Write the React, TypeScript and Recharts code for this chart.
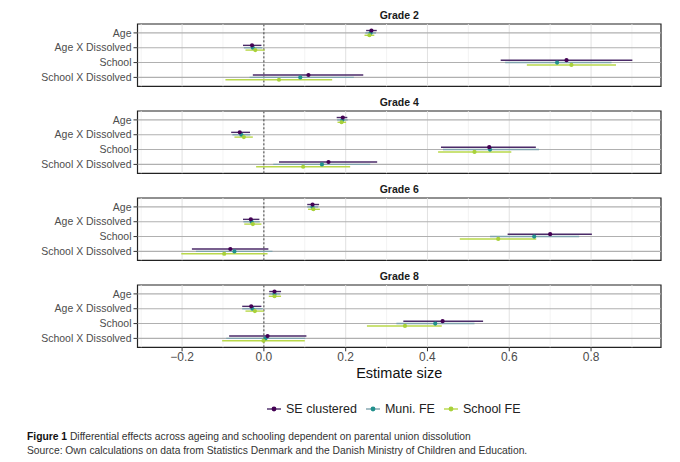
import React from 'react';
import { ScatterChart, Scatter, XAxis, YAxis, ErrorBar, ReferenceLine, ReferenceArea, Label } from 'recharts';

// facets and rows
const grades = ['Grade 2', 'Grade 4', 'Grade 6', 'Grade 8'];
const terms = ['Age', 'Age X Dissolved', 'School', 'School X Dissolved'];

// x axis
const xTicks = [-0.2, 0, 0.2, 0.4, 0.6, 0.8];
const minorGrid = [-0.3, -0.1, 0.1, 0.3, 0.5, 0.7, 0.9];
const xDomain = [-0.309, 0.971];

// SE clustered: estimate, lower, upper per grade x term
const seEst = [
  [0.263, -0.029, 0.740, 0.109],
  [0.193, -0.059, 0.551, 0.158],
  [0.119, -0.032, 0.700, -0.082],
  [0.026, -0.031, 0.437, 0.009],
];
const seLow = [
  [0.250, -0.051, 0.579, -0.027],
  [0.178, -0.080, 0.433, 0.037],
  [0.106, -0.051, 0.596, -0.176],
  [0.013, -0.053, 0.341, -0.085],
];
const seHigh = [
  [0.276, -0.006, 0.901, 0.243],
  [0.204, -0.034, 0.665, 0.277],
  [0.135, -0.011, 0.802, 0.011],
  [0.042, -0.006, 0.536, 0.104],
];

// Muni. FE
const muniEst = [
  [0.261, -0.027, 0.717, 0.089],
  [0.192, -0.055, 0.553, 0.142],
  [0.119, -0.030, 0.661, -0.072],
  [0.026, -0.028, 0.419, 0.004],
];
const muniLow = [
  [0.248, -0.049, 0.590, -0.035],
  [0.179, -0.077, 0.438, 0.023],
  [0.106, -0.050, 0.553, -0.166],
  [0.013, -0.053, 0.324, -0.092],
];
const muniHigh = [
  [0.274, -0.004, 0.850, 0.220],
  [0.205, -0.033, 0.673, 0.260],
  [0.133, -0.010, 0.771, 0.021],
  [0.040, -0.003, 0.515, 0.101],
];

// School FE
const schoolEst = [
  [0.258, -0.021, 0.752, 0.037],
  [0.190, -0.049, 0.515, 0.096],
  [0.121, -0.027, 0.573, -0.097],
  [0.026, -0.022, 0.345, -0.001],
];
const schoolLow = [
  [0.246, -0.045, 0.643, -0.094],
  [0.180, -0.072, 0.426, -0.019],
  [0.108, -0.048, 0.479, -0.202],
  [0.012, -0.045, 0.252, -0.102],
];
const schoolHigh = [
  [0.270, 0.002, 0.861, 0.167],
  [0.201, -0.027, 0.605, 0.211],
  [0.137, -0.006, 0.666, 0.009],
  [0.042, 0.000, 0.435, 0.100],
];

const series = [
  { name: 'Muni. FE', est: muniEst, low: muniLow, high: muniHigh, dodge: 0, dot: '#21908C', bar: '#7fa3ad' },
  { name: 'School FE', est: schoolEst, low: schoolLow, high: schoolHigh, dodge: 0.16, dot: '#a8d13a', bar: '#b9d84a' },
  { name: 'SE clustered', est: seEst, low: seLow, high: seHigh, dodge: -0.16, dot: '#440154', bar: '#4b2a68' },
];
const legendOrder = [2, 0, 1];

const FONT = '"Liberation Sans", Arial, Helvetica, sans-serif';
const PLOT_H = 62.3;
const PANEL_STEP = 87;
const FIRST_TOP = 23.5;

function rows(s, g) {
  return terms.map((t, j) => ({
    term: t,
    x: s.est[g][j],
    y: j + s.dodge,
    err: [s.est[g][j] - s.low[g][j], s.high[g][j] - s.est[g][j]],
  }));
}

const fmt = (v) => v.toFixed(1).replace('-', '\u2212');

function Panel({ g }) {
  const last = g === grades.length - 1;
  const top = FIRST_TOP + PANEL_STEP * g;
  const mTop = 2;
  const axisH = last ? 31 : 0;
  const mBottom = last ? 8 : 1;
  const height = mTop + PLOT_H + axisH + mBottom;
  return (
    <div style={{ position: 'absolute', left: 0, top: top - mTop }}>
      <ScatterChart width={680} height={height} margin={{ top: mTop, right: 19, bottom: mBottom, left: 7.5 }}>
        <XAxis
          type="number"
          dataKey="x"
          domain={xDomain}
          ticks={xTicks}
          allowDataOverflow
          hide={!last}
          height={axisH}
          tickFormatter={fmt}
          tick={{ fontSize: 12, fill: '#4d4d4d' }}
          tickSize={4}
          tickMargin={1}
          tickLine={{ stroke: '#333' }}
          axisLine={false}
        >
          {last && (
            <Label value="Estimate size" position="insideBottom" offset={0} style={{ fontSize: 14.5, fill: '#111' }} />
          )}
        </XAxis>
        <YAxis
          type="number"
          dataKey="y"
          domain={[-0.6, 3.6]}
          reversed
          ticks={[0, 1, 2, 3]}
          interval={0}
          width={130}
          tickFormatter={(i) => terms[i]}
          tick={{ fontSize: 10.5, fill: '#4d4d4d' }}
          tickSize={4}
          tickMargin={2}
          tickLine={{ stroke: '#333' }}
          axisLine={false}
        />
        {minorGrid.map((v) => (
          <ReferenceLine key={'m' + v} x={v} stroke="#f0f0f0" strokeWidth={0.8} />
        ))}
        {xTicks.map((v) => (
          <ReferenceLine key={'M' + v} x={v} stroke="#dedede" strokeWidth={0.9} />
        ))}
        {terms.map((t, j) => (
          <ReferenceLine key={t} y={j} stroke="#b0b0b0" strokeWidth={1.1} />
        ))}
        <ReferenceLine x={0} stroke="#111" strokeWidth={0.8} strokeDasharray="2 2" />
        {series.map((s) => (
          <Scatter
            key={s.name}
            name={s.name}
            data={rows(s, g)}
            isAnimationActive={false}
            shape={(p) => <circle cx={p.cx} cy={p.cy} r={2.1} fill={s.dot} />}
          >
            <ErrorBar dataKey="err" direction="x" width={0} stroke={s.bar} strokeWidth={1.4} isAnimationActive={false} />
          </Scatter>
        ))}
        <ReferenceArea
          x1={xDomain[0]}
          x2={xDomain[1]}
          y1={-0.6}
          y2={3.6}
          fill="none"
          fillOpacity={0}
          stroke="#222"
          strokeWidth={1.2}
        />
      </ScatterChart>
    </div>
  );
}

function LegendItem({ s }) {
  return (
    <div style={{ display: 'flex', alignItems: 'center', marginRight: 8 }}>
      <svg width={16} height={10} style={{ marginRight: 4 }}>
        <line x1={1} y1={5} x2={15} y2={5} stroke={s.bar} strokeWidth={1.4} />
        <circle cx={8} cy={5} r={2.4} fill={s.dot} />
      </svg>
      <span>{s.name}</span>
    </div>
  );
}

export default function App() {
  return (
    <div style={{ position: 'absolute', left: 0, top: 0, width: 680, height: 462, background: '#fff', fontFamily: FONT, overflow: 'hidden' }}>
      {grades.map((gr, g) => (
        <div
          key={gr}
          style={{
            position: 'absolute',
            left: 137.5,
            width: 523.5,
            top: FIRST_TOP + PANEL_STEP * g - 15,
            textAlign: 'center',
            fontSize: 10.5,
            fontWeight: 'bold',
            color: '#1a1a1a',
            lineHeight: '12px',
          }}
        >
          {gr}
        </div>
      ))}
      {grades.map((gr, g) => (
        <Panel key={gr} g={g} />
      ))}
      <div style={{ position: 'absolute', left: 266, top: 401, display: 'flex', fontSize: 12.5, color: '#222', lineHeight: '16px' }}>
        {legendOrder.map((i) => (
          <LegendItem key={series[i].name} s={series[i]} />
        ))}
      </div>
      <div style={{ position: 'absolute', left: 27, top: 430, fontSize: 10.3, color: '#333', lineHeight: '14px', whiteSpace: 'nowrap' }}>
        <div>
          <b style={{ color: '#111' }}>Figure 1</b> Differential effects across ageing and schooling dependent on parental union dissolution
        </div>
        <div>Source: Own calculations on data from Statistics Denmark and the Danish Ministry of Children and Education.</div>
      </div>
    </div>
  );
}
